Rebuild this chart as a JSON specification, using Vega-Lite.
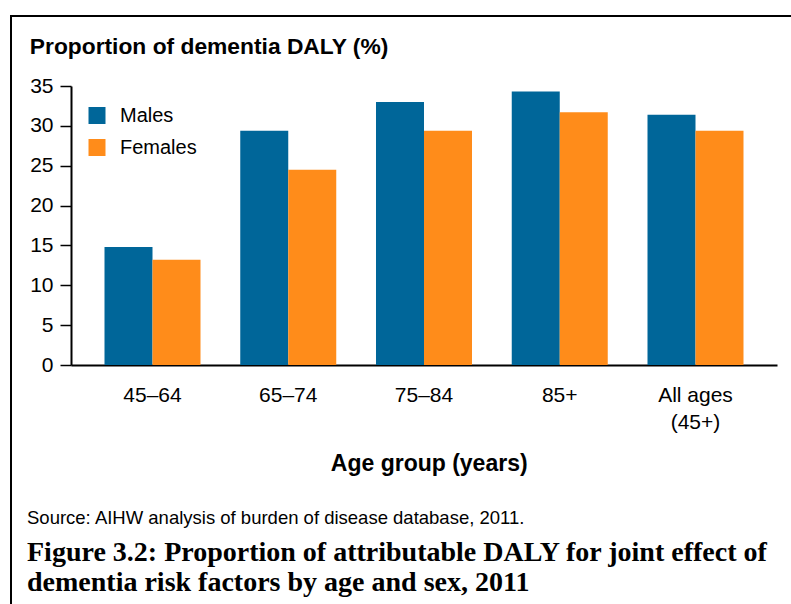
{
  "$schema": "https://vega.github.io/schema/vega-lite/v6.json",
  "usermeta": {"embedOptions": {"actions": false}},
  "autosize": "none",
  "width": 790,
  "height": 600,
  "padding": {"left": 11, "top": 16, "right": -10, "bottom": -12},
  "background": "white",
  "title": {
    "text": "Source: AIHW analysis of burden of disease database, 2011.",
    "subtitle": ["Figure 3.2: Proportion of attributable DALY for joint effect of", "dementia risk factors by age and sex, 2011"],
    "orient": "bottom",
    "anchor": "start",
    "frame": "group",
    "offset": -107,
    "dx": 16,
    "font": "Liberation Sans",
    "fontSize": 18.5,
    "fontWeight": "normal",
    "color": "black",
    "subtitleFont": "Liberation Serif",
    "subtitleFontSize": 28,
    "subtitleFontWeight": "bold",
    "subtitleColor": "black",
    "subtitleLineHeight": 30,
    "subtitlePadding": 11
  },
  "data": {
    "values": [
      {"age": "45–64", "sex": "Males", "value": 14.8},
      {"age": "45–64", "sex": "Females", "value": 13.2},
      {"age": "65–74", "sex": "Males", "value": 29.4},
      {"age": "65–74", "sex": "Females", "value": 24.5},
      {"age": "75–84", "sex": "Males", "value": 33.0},
      {"age": "75–84", "sex": "Females", "value": 29.4},
      {"age": "85+", "sex": "Males", "value": 34.3},
      {"age": "85+", "sex": "Females", "value": 31.7},
      {"age": "All ages (45+)", "sex": "Males", "value": 31.4},
      {"age": "All ages (45+)", "sex": "Females", "value": 29.4}
    ]
  },
  "mark": {"type": "bar"},
  "encoding": {
    "x": {
      "field": "age",
      "type": "nominal",
      "sort": ["45–64", "65–74", "75–84", "85+", "All ages (45+)"],
      "scale": {"range": [60, 766], "paddingInner": 0.2928, "paddingOuter": 0.2468},
      "axis": {
        "title": "Age group (years)",
        "orient": "bottom",
        "offset": -251,
        "domainColor": "black",
        "domainWidth": 2,
        "ticks": false,
        "labelAngle": 0,
        "labelPadding": 19,
        "labelFont": "Liberation Sans",
        "labelFontSize": 21,
        "labelColor": "black",
        "labelLineHeight": 27,
        "labelExpr": "datum.value == 'All ages (45+)' ? ['All ages', '(45+)'] : datum.label",
        "titleFont": "Liberation Sans",
        "titleFontSize": 23,
        "titleFontWeight": "bold",
        "titleColor": "black",
        "titleX": 417.7,
        "titleY": 105,
        "titleBaseline": "alphabetic",
        "titleAlign": "center",
        "grid": false
      }
    },
    "xOffset": {
      "field": "sex",
      "type": "nominal",
      "sort": ["Males", "Females"],
      "scale": {"paddingInner": 0, "paddingOuter": 0}
    },
    "y": {
      "field": "value",
      "type": "quantitative",
      "scale": {"domain": [0, 35], "range": [349, 70], "nice": false, "zero": true},
      "axis": {
        "title": "Proportion of dementia DALY (%)",
        "orient": "left",
        "offset": -60,
        "values": [0, 5, 10, 15, 20, 25, 30, 35],
        "domainColor": "black",
        "domainWidth": 2,
        "tickColor": "black",
        "tickWidth": 1.5,
        "tickSize": 11,
        "labelPadding": 7,
        "labelFont": "Liberation Sans",
        "labelFontSize": 21,
        "labelColor": "black",
        "titleFont": "Liberation Sans",
        "titleFontSize": 22.8,
        "titleFontWeight": "bold",
        "titleColor": "black",
        "titleAngle": 0,
        "titleAlign": "left",
        "titleBaseline": "alphabetic",
        "titleX": -41.7,
        "titleY": 37.3,
        "grid": false
      }
    },
    "color": {
      "field": "sex",
      "type": "nominal",
      "sort": ["Males", "Females"],
      "scale": {"domain": ["Males", "Females"], "range": ["#006699", "#FF8C1A"]},
      "legend": {
        "title": null,
        "orient": "none",
        "legendX": 76,
        "legendY": 89.5,
        "padding": 0,
        "symbolType": "square",
        "symbolSize": 289,
        "symbolStrokeWidth": 0,
        "symbolOpacity": 1,
        "labelFont": "Liberation Sans",
        "labelFontSize": 20,
        "labelColor": "black",
        "labelOffset": 13,
        "rowPadding": 12
      }
    }
  },
  "config": {
    "view": {"stroke": "black", "strokeWidth": 2, "fill": null}
  }
}
